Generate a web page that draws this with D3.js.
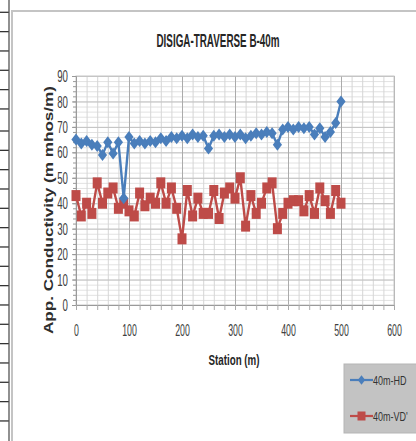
<!DOCTYPE html>
<html>
<head>
<meta charset="utf-8">
<script src="https://cdn.jsdelivr.net/npm/d3@7/dist/d3.min.js"></script>
<style>
  html, body { margin: 0; padding: 0; background: #ffffff; }
  svg { display: block; }
  text { font-family: "Liberation Sans", Arial, sans-serif; }
</style>
</head>
<body>
<svg id="chart" width="416" height="441"></svg>
<script>
// Station positions along the traverse (m)
const stations = [0, 10, 20, 30, 40, 50, 60, 70, 80, 90,
  100, 110, 120, 130, 140, 150, 160, 170, 180, 190,
  200, 210, 220, 230, 240, 250, 260, 270, 280, 290,
  300, 310, 320, 330, 340, 350, 360, 370, 380, 390,
  400, 410, 420, 430, 440, 450, 460, 470, 480, 490, 500];

// Apparent conductivity, horizontal dipole (m mhos/m)
const hd40 = [65, 63.5, 64.5, 63, 62.5, 59, 64, 59.5, 64, 42,
  66, 63.5, 64.5, 63.5, 64.5, 64, 65.5, 64.5, 66, 65.5,
  66.5, 65.5, 67, 66, 66.5, 61.5, 66.5, 67, 66, 67,
  66, 67, 65.5, 66.5, 67.5, 67, 68, 67.5, 63, 69,
  70, 69, 70, 69.5, 70, 67, 69.5, 66, 68, 71.5, 80];

// Apparent conductivity, vertical dipole (m mhos/m)
const vd40 = [43, 35, 40, 36, 48, 40, 44, 46, 38, 40,
  37, 35, 44, 39, 42, 40, 48, 40, 46, 38,
  26, 45, 35, 42, 36, 36, 45, 34, 44, 46,
  42, 50, 31, 43, 36, 40, 46, 48, 30, 36,
  40, 41, 41, 37, 43, 36, 46, 41, 36, 45, 40];

const seriesNames = ["40m-HD", "40m-VD'"];
const seriesColors = ["#4a7ebb", "#be4b48"];
const xTicks = [0, 100, 200, 300, 400, 500, 600];
const yTicks = [0, 10, 20, 30, 40, 50, 60, 70, 80, 90];
const titleText = "DISIGA-TRAVERSE B-40m";
const xTitle = "Station (m)";
const yTitle = "App. Conductivity (m mhos/m)";

const svg = d3.select("#chart");

// Spreadsheet row rules peeking out on the left edge
const rowRules = svg.append("g");
const rowStart = 12.3, rowStep = 19.33;
for (let i = 0; i < 22; i++) {
  const y = i < 6 ? rowStart + i * rowStep : 131 + (i - 6) * rowStep;
  rowRules.append("line").attr("x1", 0).attr("x2", 9).attr("y1", y).attr("y2", y)
    .attr("stroke", "#333").attr("stroke-width", 1.3);
}
rowRules.append("line").attr("x1", 9).attr("x2", 9).attr("y1", 0).attr("y2", 441)
  .attr("stroke", "#555").attr("stroke-width", 1.3);

// Chart frame
svg.append("path").attr("d", "M12,441 V11 H416").attr("fill", "none")
  .attr("stroke", "#c4c4c4").attr("stroke-width", 2);

// Plot region
const plot = { left: 76, right: 394, top: 76, bottom: 305 };
const x = d3.scaleLinear().domain([0, 600]).range([plot.left, plot.right]);
const y = d3.scaleLinear().domain([0, 90]).range([plot.bottom, plot.top]);

const grid = svg.append("g");
// minor horizontal grid every 2
grid.append("g").attr("transform", `translate(${plot.left},0)`)
  .call(d3.axisLeft(y).tickValues(d3.range(0, 91, 2)).tickSize(-(plot.right - plot.left)).tickFormat(""))
  .call(g => g.select(".domain").remove())
  .call(g => g.selectAll("line").attr("stroke", "#e2e2e2"));
// minor vertical grid every 20
grid.append("g").attr("transform", `translate(0,${plot.bottom})`)
  .call(d3.axisBottom(x).tickValues(d3.range(0, 601, 20)).tickSize(-(plot.bottom - plot.top)).tickFormat(""))
  .call(g => g.select(".domain").remove())
  .call(g => g.selectAll("line").attr("stroke", "#d6d6d6"));
// major horizontal grid every 10
grid.append("g").attr("transform", `translate(${plot.left},0)`)
  .call(d3.axisLeft(y).tickValues(yTicks).tickSize(-(plot.right - plot.left)).tickFormat(""))
  .call(g => g.select(".domain").remove())
  .call(g => g.selectAll("line").attr("stroke", "#c2c2c2"));
// major vertical grid every 100
grid.append("g").attr("transform", `translate(0,${plot.bottom})`)
  .call(d3.axisBottom(x).tickValues(xTicks).tickSize(-(plot.bottom - plot.top)).tickFormat(""))
  .call(g => g.select(".domain").remove())
  .call(g => g.selectAll("line").attr("stroke", "#ababab"));

// plot border
svg.append("rect").attr("x", plot.left).attr("y", plot.top)
  .attr("width", plot.right - plot.left).attr("height", plot.bottom - plot.top)
  .attr("fill", "none").attr("stroke", "#c8c8c8");

// Axes with small outside ticks
const yAxisMinor = svg.append("g").attr("transform", `translate(${plot.left},0)`)
  .call(d3.axisLeft(y).tickValues(d3.range(0, 91, 2)).tickSize(3).tickFormat(""));
yAxisMinor.selectAll("line").attr("stroke", "#999");
yAxisMinor.select(".domain").attr("stroke", "#9a9a9a");

const yAxis = svg.append("g").attr("transform", `translate(${plot.left},0)`)
  .call(d3.axisLeft(y).tickValues(yTicks).tickSize(4));
yAxis.select(".domain").remove();
yAxis.selectAll("line").attr("stroke", "#999");
yAxis.selectAll("text")
  .attr("x", null).attr("dy", null)
  .attr("text-anchor", "end")
  .attr("transform", "translate(-8,5.6) scale(0.88,1.5)")
  .attr("font-size", 11).attr("fill", "#404040")
  .attr("font-family", "Liberation Sans, Arial, sans-serif");

const xAxis = svg.append("g").attr("transform", `translate(0,${plot.bottom})`)
  .call(d3.axisBottom(x).tickValues(d3.range(0, 601, 20)).tickSize(5).tickFormat(""));
xAxis.select(".domain").attr("stroke", "#9a9a9a");
xAxis.selectAll("line").attr("stroke", "#aaa");

const xLabels = svg.append("g").attr("transform", `translate(0,${plot.bottom})`)
  .call(d3.axisBottom(x).tickValues(xTicks).tickSize(0));
xLabels.select(".domain").remove();
xLabels.selectAll("text")
  .attr("y", null).attr("dy", null)
  .attr("transform", "translate(0,31) scale(0.8,1.55)")
  .attr("font-size", 11).attr("fill", "#404040")
  .attr("font-family", "Liberation Sans, Arial, sans-serif");

// Series
const hdData = stations.map((s, i) => ({ s, v: hd40[i] }));
const vdData = stations.map((s, i) => ({ s, v: vd40[i] }));
const line = d3.line().x(d => x(d.s)).y(d => y(d.v));

svg.append("path").datum(vdData).attr("d", line)
  .attr("fill", "none").attr("stroke", seriesColors[1]).attr("stroke-width", 2.4)
  .attr("stroke-linejoin", "round");
svg.append("g").selectAll("rect").data(vdData).join("rect")
  .attr("x", d => x(d.s) - 4.5).attr("y", d => y(d.v) - 5.5)
  .attr("width", 9).attr("height", 11).attr("fill", seriesColors[1]);

svg.append("path").datum(hdData).attr("d", line)
  .attr("fill", "none").attr("stroke", seriesColors[0]).attr("stroke-width", 2.4)
  .attr("stroke-linejoin", "round");
const diamond = "M0,-6L4.6,0L0,6L-4.6,0Z";
svg.append("g").selectAll("path").data(hdData).join("path")
  .attr("transform", d => `translate(${x(d.s)},${y(d.v)})`)
  .attr("d", diamond).attr("fill", seriesColors[0]);

// Titles
svg.append("text").text(titleText)
  .attr("transform", "translate(218,47) scale(1,1.55)")
  .attr("text-anchor", "middle").attr("font-weight", "bold").attr("font-size", 12)
  .attr("textLength", 123).attr("lengthAdjust", "spacingAndGlyphs")
  .attr("fill", "#262626");

svg.append("text").text(xTitle)
  .attr("transform", "translate(234,365) scale(1,1.4)")
  .attr("text-anchor", "middle").attr("font-weight", "bold").attr("font-size", 11)
  .attr("textLength", 51).attr("lengthAdjust", "spacingAndGlyphs")
  .attr("fill", "#262626");

svg.append("text").text(yTitle)
  .attr("transform", "translate(53,210) rotate(-90)")
  .attr("text-anchor", "middle").attr("font-weight", "bold").attr("font-size", 13)
  .attr("textLength", 248).attr("lengthAdjust", "spacingAndGlyphs")
  .attr("fill", "#2e2e2e");

// Legend
const legend = svg.append("g");
legend.append("rect").attr("x", 344).attr("y", 364).attr("width", 80).attr("height", 69)
  .attr("fill", "#c3c3c3").attr("stroke", "#b5b5b5");
const legendRows = [380, 416];
seriesNames.forEach((name, i) => {
  const ly = legendRows[i];
  legend.append("line").attr("x1", 350).attr("x2", 373).attr("y1", ly).attr("y2", ly)
    .attr("stroke", seriesColors[i]).attr("stroke-width", 2.2);
  if (i === 0) {
    legend.append("path").attr("transform", `translate(361.5,${ly}) scale(0.8)`)
      .attr("d", diamond).attr("fill", seriesColors[i]);
  } else {
    legend.append("rect").attr("x", 357.5).attr("y", ly - 4.5).attr("width", 8).attr("height", 9)
      .attr("fill", seriesColors[i]);
  }
  legend.append("text").text(name)
    .attr("transform", `translate(373,${ly + 4.6}) scale(0.9,1.3)`)
    .attr("font-size", 10).attr("fill", "#333");
});
</script>
</body>
</html>
